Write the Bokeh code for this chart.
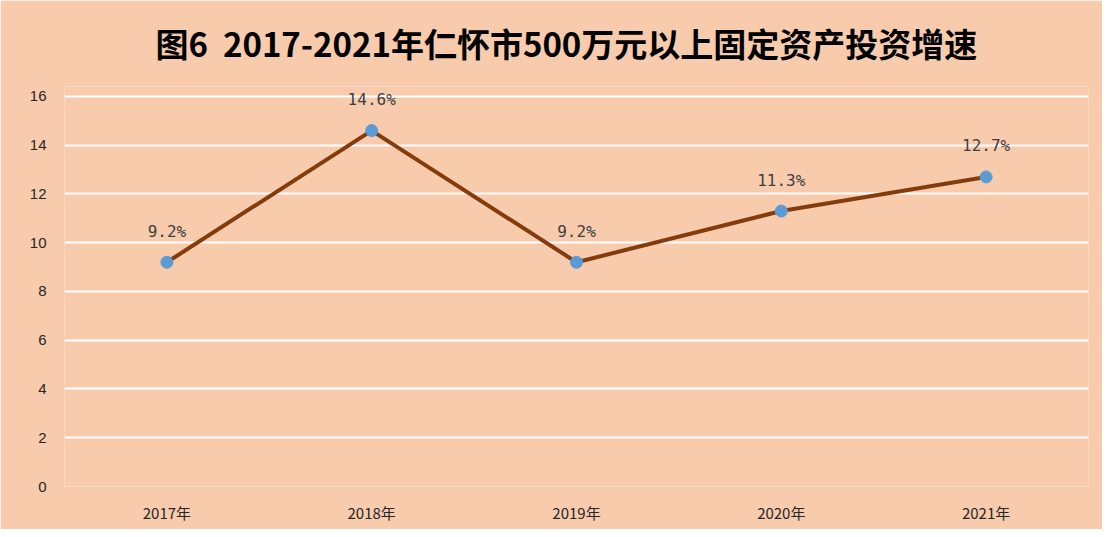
from bokeh.plotting import figure
from bokeh.models import ColumnDataSource, FixedTicker, Title, LabelSet
from bokeh.core.properties import value
from bokeh.embed import file_html
from bokeh.resources import INLINE

years = ["2017年", "2018年", "2019年", "2020年", "2021年"]
growth = [9.2, 14.6, 9.2, 11.3, 12.7]
labels = ["9.2%", "14.6%", "9.2%", "11.3%", "12.7%"]
y_ticks = [0, 2, 4, 6, 8, 10, 12, 14, 16]
title_text = "图6\u00a0\u00a02017-2021年仁怀市500万元以上固定资产投资增速"

bg = "#F8CBAD"
src = ColumnDataSource(dict(x=years, y=growth, lab=labels))

p = figure(x_range=years, y_range=(0, 16.41), width=1102, height=529,
           output_backend="svg", toolbar_location=None,
           min_border_left=64, min_border_right=14, min_border_bottom=43, min_border_top=86)
p.background_fill_color = bg
p.border_fill_color = bg
p.outline_line_color = None
p.x_range.range_padding = 0

p.title = Title(text=title_text, align="left", vertical_align="top",
                text_font="Noto Sans CJK SC",
                text_font_size="33px", text_font_style="bold", text_color="#000000",
                standoff=36, offset=91)

p.xgrid.grid_line_color = None
p.ygrid.grid_line_color = "white"
p.ygrid.grid_line_width = 2
p.yaxis.ticker = FixedTicker(ticks=y_ticks)

for ax in (p.xaxis, p.yaxis):
    ax.axis_line_color = None
    ax.major_tick_line_color = None
    ax.minor_tick_line_color = None
    ax.major_label_text_color = "#262626"
    ax.major_label_text_font = "Liberation Sans"
    ax.major_label_text_font_size = "15px"
p.yaxis.major_label_standoff = 12
p.xaxis.major_label_standoff = 9
p.xaxis.major_label_text_font = "Noto Sans CJK SC"

p.line("x", "y", source=src, line_color="#843C0C", line_width=4)
p.scatter("x", "y", source=src, size=12, fill_color="#5B9BD5", line_color="#5B9BD5")
p.add_layout(LabelSet(x="x", y="y", text="lab", source=src, text_align="center",
                      text_baseline="middle", y_offset=31,
                      text_font=value("DejaVu Sans Mono"),
                      text_font_size=value("16px"), text_color=value("#404040"),
                      level="overlay"))

open("out.html", "w").write(file_html(p, INLINE))
